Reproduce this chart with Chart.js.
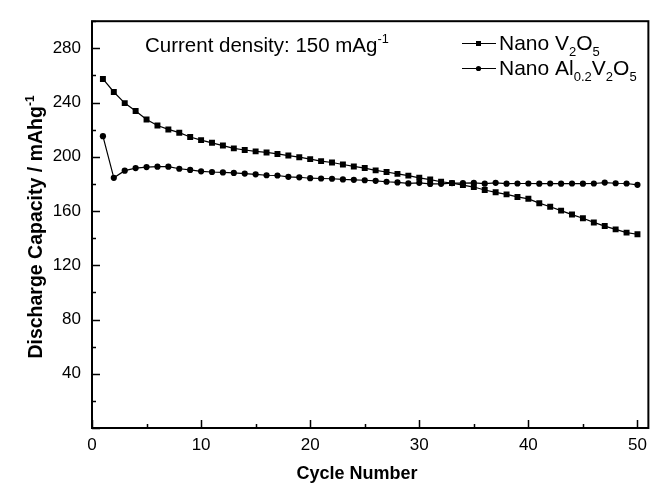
<!DOCTYPE html>
<html lang="en">
<head>
<meta charset="UTF-8">
<title>Discharge capacity vs cycle number</title>
<script src="https://cdn.jsdelivr.net/npm/chart.js"></script>
<style>
  html, body { margin: 0; padding: 0; background: #fff; }
  canvas { display: block; }
</style>
</head>
<body>
<canvas id="capacity" width="654" height="485"></canvas>
<script>
  const cycles = [1, 2, 3, 4, 5, 6, 7, 8, 9, 10, 11, 12, 13, 14, 15, 16, 17, 18, 19, 20,
    21, 22, 23, 24, 25, 26, 27, 28, 29, 30, 31, 32, 33, 34, 35, 36, 37, 38, 39, 40,
    41, 42, 43, 44, 45, 46, 47, 48, 49, 50];

  const nanoV2O5 = [257.4, 247.8, 239.6, 233.8, 227.5, 223.1, 220.2, 217.8, 214.6, 212.3,
    210.3, 208.3, 206.2, 205.0, 204.0, 203.2, 202.1, 200.9, 199.7, 198.3,
    196.8, 195.8, 194.3, 192.9, 191.7, 190.0, 188.8, 187.4, 186.1, 184.5,
    183.2, 181.6, 180.6, 179.1, 177.7, 175.5, 173.8, 172.3, 170.4, 169.0,
    165.8, 163.2, 160.3, 157.4, 154.7, 151.6, 148.9, 146.5, 144.1, 142.9];

  const nanoAl02V2O5 = [215.2, 184.5, 189.8, 191.7, 192.4, 192.7, 192.7, 191.2, 190.3, 189.3,
    188.8, 188.5, 188.1, 187.6, 187.1, 186.4, 186.2, 185.2, 184.9, 184.2,
    184.0, 183.8, 183.3, 183.0, 182.7, 182.3, 181.6, 181.1, 180.4, 180.8,
    180.0, 180.1, 180.6, 180.6, 180.8, 180.2, 180.8, 180.2, 180.3, 180.3,
    180.2, 180.3, 180.2, 180.3, 180.2, 180.3, 181.0, 180.5, 180.3, 179.3];

  const xTickLabels = [0, 10, 20, 30, 40, 50];
  const yTickLabels = [40, 80, 120, 160, 200, 240, 280];

  const FONT = "'Liberation Sans', Arial, sans-serif";

  // text with sub/superscripts : parts = [[text, "n" | "sub" | "sup"], ...]
  function richWidth(ctx, parts, size, bold) {
    let w = 0;
    for (const [t, k] of parts) {
      const s = k === "n" ? size : size * 0.62;
      ctx.font = (bold ? "bold " : "") + s + "px " + FONT;
      w += ctx.measureText(t).width;
    }
    return w;
  }

  function drawRich(ctx, parts, x, y, size, bold) {
    ctx.textBaseline = "alphabetic";
    ctx.textAlign = "left";
    for (const [t, k] of parts) {
      const s = k === "n" ? size : size * 0.62;
      let dy = 0;
      if (k === "sub") dy = size * 0.3;
      if (k === "sup") dy = -size * 0.42;
      ctx.font = (bold ? "bold " : "") + s + "px " + FONT;
      ctx.fillText(t, x, y + dy);
      x += ctx.measureText(t).width;
    }
    return x;
  }

  const framePlugin = {
    id: "frame",
    afterDraw(chart) {
      const ctx = chart.ctx;
      const a = chart.chartArea;
      const sx = chart.scales.x, sy = chart.scales.y;
      ctx.save();
      ctx.strokeStyle = "#000";
      ctx.fillStyle = "#000";

      // ticks (inward)
      ctx.lineWidth = 1.5;
      ctx.beginPath();
      sx.ticks.forEach(t => {
        const px = Math.round(sx.getPixelForValue(t.value)) + 0.5;
        const len = t.value % 10 === 0 ? 8 : 4;
        ctx.moveTo(px, a.bottom);
        ctx.lineTo(px, a.bottom - len);
      });
      sy.ticks.forEach(t => {
        const py = Math.round(sy.getPixelForValue(t.value)) + 0.5;
        const len = t.value % 40 === 0 ? 8 : 4;
        ctx.moveTo(a.left, py);
        ctx.lineTo(a.left + len, py);
      });
      ctx.stroke();

      // frame
      ctx.lineWidth = 2;
      ctx.strokeRect(a.left, a.top, a.right - a.left, a.bottom - a.top);

      // axis titles
      ctx.textAlign = "center";
      ctx.textBaseline = "alphabetic";
      ctx.font = "bold 18px " + FONT;
      ctx.fillText("Cycle Number", 357, 479);

      const yTitle = [["Discharge Capacity / mAhg", "n"], ["-1", "sup"]];
      const wy = richWidth(ctx, yTitle, 19.5, true);
      ctx.save();
      ctx.translate(42, 227);
      ctx.rotate(-Math.PI / 2);
      drawRich(ctx, yTitle, -wy / 2, 0, 19.5, true);
      ctx.restore();

      // annotation
      drawRich(ctx, [["Current density: 150 mAg", "n"], ["-1", "sup"]], 145, 52, 20.5, false);

      // legend
      const rows = [
        { y: 50, style: "rect", parts: [["Nano V", "n"], ["2", "sub"], ["O", "n"], ["5", "sub"]] },
        { y: 75, style: "circle", parts: [["Nano Al", "n"], ["0.2", "sub"], ["V", "n"], ["2", "sub"], ["O", "n"], ["5", "sub"]] }
      ];
      rows.forEach(r => {
        const ly = r.y - 7;
        ctx.lineWidth = 1.2;
        ctx.beginPath();
        ctx.moveTo(462, ly + 0.5);
        ctx.lineTo(496, ly + 0.5);
        ctx.stroke();
        if (r.style === "rect") {
          ctx.fillRect(476, ly - 2, 5, 5);
        } else {
          ctx.beginPath();
          ctx.arc(478.5, ly + 0.5, 2.6, 0, Math.PI * 2);
          ctx.fill();
        }
        drawRich(ctx, r.parts, 499, r.y, 21, false);
      });
      ctx.restore();
    }
  };

  const ctx = document.getElementById("capacity").getContext("2d");
  const chart = new Chart(ctx, {
    type: "line",
    data: {
      datasets: [
        {
          label: "Nano V2O5",
          data: cycles.map((c, i) => ({ x: c, y: nanoV2O5[i] })),
          borderColor: "#000",
          backgroundColor: "#000",
          borderWidth: 1.2,
          pointStyle: "rect",
          pointRadius: 4.2,
          pointBorderWidth: 0,
          tension: 0
        },
        {
          label: "Nano Al0.2V2O5",
          data: cycles.map((c, i) => ({ x: c, y: nanoAl02V2O5[i] })),
          borderColor: "#000",
          backgroundColor: "#000",
          borderWidth: 1.2,
          pointStyle: "circle",
          pointRadius: 3.1,
          pointBorderWidth: 0,
          tension: 0
        }
      ]
    },
    options: {
      responsive: false,
      animation: false,
      devicePixelRatio: 1,
      layout: { padding: { left: 0, right: 3, top: 14, bottom: 0 } },
      plugins: {
        legend: { display: false },
        tooltip: { enabled: false }
      },
      scales: {
        x: {
          type: "linear",
          min: 0,
          max: 51,
          grid: { display: false, drawTicks: false },
          border: { display: false },
          ticks: {
            stepSize: 5,
            includeBounds: false,
            autoSkip: false,
            maxRotation: 0,
            padding: 7,
            color: "#000",
            font: { family: FONT, size: 17 },
            callback: v => xTickLabels.includes(v) ? String(v) : ""
          },
          afterFit: s => { s.height = 57; }
        },
        y: {
          min: 0,
          max: 300,
          grid: { display: false, drawTicks: false },
          border: { display: false },
          ticks: {
            stepSize: 20,
            autoSkip: false,
            padding: 11,
            color: "#000",
            font: { family: FONT, size: 17 },
            callback: v => yTickLabels.includes(v) ? String(v) : ""
          },
          afterFit: s => { s.width = 92; }
        }
      }
    },
    plugins: [framePlugin]
  });
</script>
</body>
</html>
